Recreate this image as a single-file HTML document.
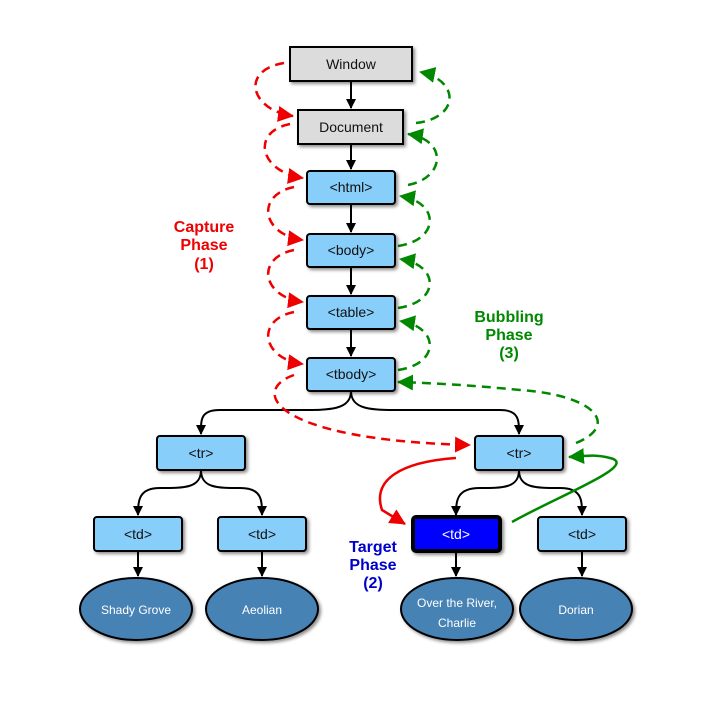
<!DOCTYPE html>
<html><head><meta charset="utf-8"><style>
body{margin:0;background:#fff}
svg{display:block}
text{font-family:"Liberation Sans",sans-serif}
</style></head><body>
<svg width="720" height="720" viewBox="0 0 720 720" xmlns="http://www.w3.org/2000/svg">
<defs>
<marker id="ab" markerWidth="10" markerHeight="10" refX="9" refY="5" orient="auto" markerUnits="userSpaceOnUse"><path d="M0,0 L10,5 L0,10 Z" fill="#000"/></marker>
<marker id="ar" markerWidth="16" markerHeight="16" refX="15" refY="8" orient="auto" markerUnits="userSpaceOnUse"><path d="M0,0 L16,8 L0,16 Z" fill="#e00"/></marker>
<marker id="ag" markerWidth="16" markerHeight="16" refX="15" refY="8" orient="auto" markerUnits="userSpaceOnUse"><path d="M0,0 L16,8 L0,16 Z" fill="#080"/></marker>
<filter id="sh" x="-20%" y="-20%" width="150%" height="160%"><feDropShadow dx="2" dy="2" stdDeviation="1.5" flood-color="#000" flood-opacity="0.45"/></filter>
</defs>

<!-- black connectors -->
<g stroke="#000" stroke-width="2" fill="none">
<line x1="351" y1="81" x2="351" y2="108" marker-end="url(#ab)"/>
<line x1="351" y1="144" x2="351" y2="169" marker-end="url(#ab)"/>
<line x1="351" y1="204" x2="351" y2="232" marker-end="url(#ab)"/>
<line x1="351" y1="267" x2="351" y2="294" marker-end="url(#ab)"/>
<line x1="351" y1="329" x2="351" y2="356" marker-end="url(#ab)"/>
<path d="M351,391 C351,410 330,410 300,410 L220,410 C200,410 201,420 201,434" marker-end="url(#ab)"/>
<path d="M351,391 C351,410 372,410 400,410 L500,410 C519,410 519,420 519,434" marker-end="url(#ab)"/>
<path d="M201,470 C201,488 185,488 160,488 C139,488 138,500 138,515" marker-end="url(#ab)"/>
<path d="M201,470 C201,488 217,488 240,488 C262,488 262,500 262,515" marker-end="url(#ab)"/>
<path d="M519,470 C519,488 503,488 480,488 C457,488 456,500 456,515" marker-end="url(#ab)"/>
<path d="M519,470 C519,488 535,488 560,488 C582,488 582,500 582,515" marker-end="url(#ab)"/>
<line x1="138" y1="551" x2="138" y2="576" marker-end="url(#ab)"/>
<line x1="262" y1="551" x2="262" y2="576" marker-end="url(#ab)"/>
<line x1="456" y1="551" x2="456" y2="576" marker-end="url(#ab)"/>
<line x1="582" y1="551" x2="582" y2="576" marker-end="url(#ab)"/>
</g>

<!-- red capture -->
<g stroke="#e00" stroke-width="2.5" fill="none" stroke-dasharray="9,6">
<path d="M284,63 C240,70 250,110 293,116" marker-end="url(#ar)"/>
<path d="M290,124 C250,132 260,172 303,178" marker-end="url(#ar)"/>
<path d="M294,187 C255,195 262,235 303,240" marker-end="url(#ar)"/>
<path d="M294,250 C255,258 262,297 303,302" marker-end="url(#ar)"/>
<path d="M294,312 C255,320 262,359 303,364" marker-end="url(#ar)"/>
<path d="M294,375 C250,390 270,440 470,445" marker-end="url(#ar)"/>
</g>
<path d="M456,458 C400,462 372,480 382,510 L405,524" stroke="#e00" stroke-width="2.5" fill="none" marker-end="url(#ar)"/>

<!-- green bubbling -->
<g stroke="#080" stroke-width="2.5" fill="none" stroke-dasharray="9,6">
<path d="M416,123 C460,118 460,80 420,72" marker-end="url(#ag)"/>
<path d="M408,185 C445,178 448,140 408,134" marker-end="url(#ag)"/>
<path d="M398,246 C440,240 440,202 400,196" marker-end="url(#ag)"/>
<path d="M398,308 C440,302 440,265 400,259" marker-end="url(#ag)"/>
<path d="M398,370 C440,364 440,327 400,321" marker-end="url(#ag)"/>
<path d="M576,443 C620,425 595,395 520,390 C470,385 430,383 398,382" marker-end="url(#ag)"/>
</g>
<path d="M512,522 C560,495 640,465 610,458 C595,454 585,456 569,457" stroke="#080" stroke-width="2.5" fill="none" marker-end="url(#ag)"/>

<!-- boxes -->
<g filter="url(#sh)" stroke="#000" stroke-width="2">
<rect x="290" y="47" width="122" height="34" fill="#dcdcdc"/>
<rect x="298" y="110" width="105" height="34" fill="#dcdcdc"/>
<rect x="307" y="171" width="88" height="33" rx="3" fill="#87cefa"/>
<rect x="307" y="234" width="88" height="33" rx="3" fill="#87cefa"/>
<rect x="307" y="296" width="88" height="33" rx="3" fill="#87cefa"/>
<rect x="307" y="358" width="88" height="33" rx="3" fill="#87cefa"/>
<rect x="157" y="436" width="88" height="34" rx="3" fill="#87cefa"/>
<rect x="475" y="436" width="88" height="34" rx="3" fill="#87cefa"/>
<rect x="94" y="517" width="88" height="34" rx="3" fill="#87cefa"/>
<rect x="218" y="517" width="88" height="34" rx="3" fill="#87cefa"/>
<rect x="413" y="517" width="87" height="34" rx="3" fill="#0000ff" stroke-width="4"/>
<rect x="538" y="517" width="88" height="34" rx="3" fill="#87cefa"/>
<ellipse cx="136" cy="609" rx="56" ry="31" fill="#4682b4"/>
<ellipse cx="262" cy="609" rx="56" ry="31" fill="#4682b4"/>
<ellipse cx="457" cy="609" rx="56" ry="31" fill="#4682b4"/>
<ellipse cx="576" cy="609" rx="56" ry="31" fill="#4682b4"/>
</g>

<g font-size="14" text-anchor="middle" fill="#111">
<text x="351" y="69">Window</text>
<text x="351" y="132">Document</text>
<text x="351" y="192">&lt;html&gt;</text>
<text x="351" y="255">&lt;body&gt;</text>
<text x="351" y="317">&lt;table&gt;</text>
<text x="351" y="379">&lt;tbody&gt;</text>
<text x="201" y="458">&lt;tr&gt;</text>
<text x="519" y="458">&lt;tr&gt;</text>
<text x="138" y="539">&lt;td&gt;</text>
<text x="262" y="539">&lt;td&gt;</text>
<text x="456" y="539" fill="#fff">&lt;td&gt;</text>
<text x="582" y="539">&lt;td&gt;</text>
</g>
<g font-size="12" text-anchor="middle" fill="#fff">
<text x="136" y="614">Shady Grove</text>
<text x="262" y="614">Aeolian</text>
<text x="457" y="607">Over the River,</text>
<text x="457" y="627">Charlie</text>
<text x="576" y="614">Dorian</text>
</g>
<g font-size="16" font-weight="bold" text-anchor="middle">
<text fill="#e00"><tspan x="204" y="232">Capture</tspan><tspan x="204" y="250">Phase</tspan><tspan x="204" y="269">(1)</tspan></text>
<text fill="#080"><tspan x="509" y="322">Bubbling</tspan><tspan x="509" y="340">Phase</tspan><tspan x="509" y="358">(3)</tspan></text>
<text fill="#0000cc"><tspan x="373" y="552">Target</tspan><tspan x="373" y="570">Phase</tspan><tspan x="373" y="588">(2)</tspan></text>
</g>
</svg>
</body></html>
